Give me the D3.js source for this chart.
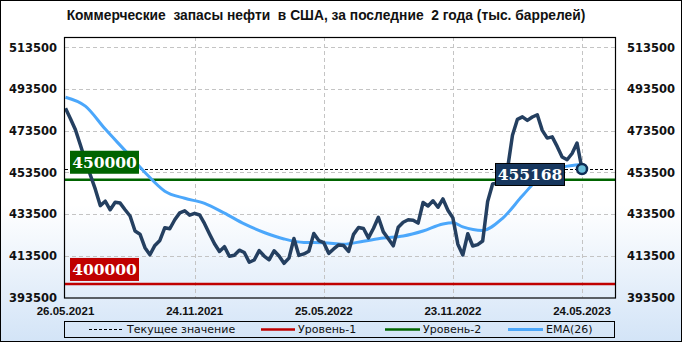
<!DOCTYPE html>
<html>
<head>
<meta charset="utf-8">
<script src="https://cdn.jsdelivr.net/npm/d3@7/dist/d3.min.js"></script>
<style>
  body { margin: 0; }
  svg { display: block; }
  text { white-space: pre; }
</style>
</head>
<body>
<script>
// weekly commercial crude stocks (thousand barrels), first release 26.05.2021
const startDate = "26.05.2021";
const stockValues = [
    484300, 479300, 474000, 466700, 459100, 452300, 445500, 437600, 439700, 435600,
    439200, 438800, 435600, 432600, 425400, 423900, 417400, 414000, 418500, 420900,
    427000, 426500, 430800, 434100, 435100, 433000, 433900, 433100, 428900, 424000,
    419300, 415600, 417900, 413300, 413800, 416200, 415100, 410400, 411500, 416000,
    413400, 411600, 415900, 413400, 409900, 412400, 421800, 413700, 414400, 415700,
    424200, 420800, 419800, 414700, 416800, 418700, 418400, 415600, 423800, 427100,
    426600, 422100, 426600, 432000, 425000, 421700, 418300, 427200, 429600, 430800,
    430600, 429200, 439100, 437400, 439900, 436800, 440800, 435400, 431700, 419100,
    413900, 424100, 418200, 418900, 420600, 439600, 448000, 448500, 452700, 455100,
    471400, 479000, 480200, 478500, 480100, 481200, 473700, 470000, 470600, 466000,
    460900, 459600, 462600, 467600, 455168
];

// EMA(26) at every 4th week
const emaWeeks = [0, 4, 8, 12, 16, 20, 24, 28, 32, 36, 40, 44, 48, 52, 56, 60, 64, 68, 72, 76, 78, 80, 84, 88, 92, 96, 100, 104];
const emaValues = [
    489600, 485300, 474300, 464000, 453500, 444500, 441100, 438700, 434000, 428800,
    424700, 421600, 419900, 419800, 419100, 420500, 422000, 423000, 425400, 428800,
    429400, 427400, 425700, 431500, 442300, 452300, 456000, 457300
];

const levelValues = [400000, 450000];
const levelLabels = ["400000", "450000"];
const yTickValues = [393500, 413500, 433500, 453500, 473500, 493500, 513500];
const xTickLabels = ["26.05.2021", "24.11.2021", "25.05.2022", "23.11.2022", "24.05.2023"];
const legendLabels = ["Текущее значение", "Уровень-1", "Уровень-2", "EMA(26)"];
const titleText = "Коммерческие  запасы нефти  в США, за последние  2 года (тыс. баррелей)";

const drawChart = function () {
    var width = 682,
        height = 342,
        plotLeft = 65,
        plotRight = 615,
        plotTop = 37,
        plotBottom = 297.5,

        lineColor = "#243f60",
        emaColor = "#4ba7fb",
        level1Color = "#c00000",
        level2Color = "#006400",
        gridColor = "#c4c4c4",
        axisFont = "'DejaVu Sans', Verdana, sans-serif",
        labelFont = "'Liberation Sans', Arial, sans-serif",
        boxFont = "'DejaVu Serif', Georgia, serif";

    var parseDate = d3.timeParse("%d.%m.%Y"),
        firstDate = parseDate(startDate),
        dates = stockValues.map((v, i) => d3.timeDay.offset(firstDate, 7 * i)),
        tickDates = xTickLabels.map(parseDate),
        lastValue = stockValues[stockValues.length - 1],
        lastDate = dates[dates.length - 1];

    const x = d3.scaleTime()
                .domain([tickDates[0], tickDates[tickDates.length - 1]])
                .range([plotLeft + 0.5, 582]);

    const y = d3.scaleLinear()
                .domain([393500, 518500])
                .range([plotBottom, plotTop]);

    var svg = d3.select("body").append("svg")
                .attr("width", width)
                .attr("height", height);

    // background gradient
    var grad = svg.append("defs").append("linearGradient")
                .attr("id", "bg")
                .attr("x1", 0).attr("y1", 0)
                .attr("x2", 0).attr("y2", 1);
    grad.append("stop").attr("offset", "0%").attr("stop-color", "#ffffff");
    grad.append("stop").attr("offset", "60%").attr("stop-color", "#ffffff");
    grad.append("stop").attr("offset", "100%").attr("stop-color", "#d3e4f7");

    svg.append("rect")
        .attr("x", 0.5).attr("y", 0.5)
        .attr("width", width - 1).attr("height", height - 1)
        .attr("fill", "url(#bg)")
        .attr("stroke", "#000");

    // title
    svg.append("text")
        .attr("x", 326)
        .attr("y", 19.5)
        .attr("text-anchor", "middle")
        .attr("font-family", labelFont)
        .attr("font-weight", "bold")
        .attr("font-size", "13.8px")
        .attr("fill", "#111")
        .text(titleText);

    // grid
    var grid = svg.append("g").attr("stroke", gridColor).attr("stroke-dasharray", "4,3");

    yTickValues.slice(1).forEach(function (v) {
        var yy = Math.round(y(v)) + 0.5;
        grid.append("line")
            .attr("x1", plotLeft).attr("x2", plotRight)
            .attr("y1", yy).attr("y2", yy);
    });

    tickDates.slice(1).forEach(function (d) {
        var xx = Math.round(x(d)) + 0.5;
        grid.append("line")
            .attr("x1", xx).attr("x2", xx)
            .attr("y1", plotTop).attr("y2", plotBottom);
    });

    // y labels, both sides
    yTickValues.forEach(function (v) {
        [{ xx: 57, anchor: "end" }, { xx: 627, anchor: "start" }].forEach(function (s) {
            svg.append("text")
                .attr("x", s.xx)
                .attr("y", y(v))
                .attr("dy", "0.36em")
                .attr("text-anchor", s.anchor)
                .attr("font-family", axisFont)
                .attr("font-weight", "bold")
                .attr("font-size", "11.5px")
                .attr("fill", "#111")
                .text(v);
        });
    });

    // x labels
    xTickLabels.forEach(function (label, i) {
        svg.append("text")
            .attr("x", x(tickDates[i]))
            .attr("y", 315)
            .attr("text-anchor", "middle")
            .attr("font-family", labelFont)
            .attr("font-weight", "bold")
            .attr("font-size", "11.5px")
            .attr("fill", "#111")
            .text(label);
    });

    // current value dotted line
    var currentY = Math.round(y(lastValue)) + 0.5;
    svg.append("line")
        .attr("x1", plotLeft).attr("x2", plotRight)
        .attr("y1", currentY).attr("y2", currentY)
        .attr("stroke", "#000")
        .attr("stroke-dasharray", "3,2");

    // level lines
    [level1Color, level2Color].forEach(function (c, i) {
        svg.append("line")
            .attr("x1", plotLeft).attr("x2", plotRight)
            .attr("y1", y(levelValues[i])).attr("y2", y(levelValues[i]))
            .attr("stroke", c)
            .attr("stroke-width", 2.5);
    });

    // EMA line
    var emaLine = d3.line()
                    .x(d => x(dates[d.week]))
                    .y(d => y(d.value))
                    .curve(d3.curveMonotoneX);

    svg.append("path")
        .datum(emaWeeks.map((w, i) => ({ week: w, value: emaValues[i] })))
        .attr("fill", "none")
        .attr("stroke", emaColor)
        .attr("stroke-width", 3)
        .attr("d", emaLine);

    // stocks line
    var stockLine = d3.line()
                    .x((d, i) => x(dates[i]))
                    .y(d => y(d));

    svg.append("path")
        .datum(stockValues)
        .attr("fill", "none")
        .attr("stroke", lineColor)
        .attr("stroke-width", 3.5)
        .attr("stroke-linejoin", "round")
        .attr("d", stockLine);

    // plot border
    svg.append("rect")
        .attr("x", plotLeft - 0.5).attr("y", plotTop + 0.5)
        .attr("width", plotRight - plotLeft + 1).attr("height", plotBottom - plotTop)
        .attr("fill", "none")
        .attr("stroke", "#000")
        .attr("stroke-width", 1.2);

    // level label boxes
    var levelBoxes = [
        { label: levelLabels[0], color: level1Color, top: y(levelValues[0]) - 26 },
        { label: levelLabels[1], color: level2Color, top: y(levelValues[1]) - 29 }
    ];

    levelBoxes.forEach(function (b) {
        svg.append("rect")
            .attr("x", 70).attr("y", b.top)
            .attr("width", 69).attr("height", 23)
            .attr("fill", b.color);
        svg.append("text")
            .attr("x", 104.5).attr("y", b.top + 17.5)
            .attr("text-anchor", "middle")
            .attr("font-family", boxFont)
            .attr("font-weight", "bold")
            .attr("font-size", "15.5px")
            .attr("fill", "#fff")
            .text(b.label);
    });

    // current value box and marker
    var boxTop = y(lastValue) - 5.5;
    svg.append("rect")
        .attr("x", 495.5).attr("y", boxTop)
        .attr("width", 69).attr("height", 22)
        .attr("fill", "#17375e")
        .attr("stroke", "#000");
    svg.append("text")
        .attr("x", 530).attr("y", boxTop + 17)
        .attr("text-anchor", "middle")
        .attr("font-family", boxFont)
        .attr("font-weight", "bold")
        .attr("font-size", "15.5px")
        .attr("fill", "#fff")
        .text(lastValue);

    svg.append("circle")
        .attr("cx", x(lastDate)).attr("cy", y(lastValue))
        .attr("r", 5)
        .attr("fill", "#6cc0dc")
        .attr("stroke", "#0f2e56")
        .attr("stroke-width", 2.5);

    // legend
    var legend = svg.append("g").attr("font-family", axisFont).attr("font-size", "11px").attr("fill", "#111");

    legend.append("rect")
        .attr("x", 64.5).attr("y", 321.5)
        .attr("width", 550).attr("height", 16)
        .attr("fill", "none")
        .attr("stroke", "#000");

    var legendItems = [
        { x1: 89, x2: 122, tx: 127, color: "#000", dash: "3,2", w: 1, label: legendLabels[0] },
        { x1: 261, x2: 295, tx: 298, color: level1Color, dash: null, w: 2.5, label: legendLabels[1] },
        { x1: 385, x2: 420, tx: 423, color: level2Color, dash: null, w: 2.5, label: legendLabels[2] },
        { x1: 508, x2: 543, tx: 546, color: emaColor, dash: null, w: 3, label: legendLabels[3] }
    ];

    legendItems.forEach(function (it) {
        legend.append("line")
            .attr("x1", it.x1).attr("x2", it.x2)
            .attr("y1", 329.5).attr("y2", 329.5)
            .attr("stroke", it.color)
            .attr("stroke-width", it.w)
            .attr("stroke-dasharray", it.dash);
        legend.append("text")
            .attr("x", it.tx).attr("y", 329.5)
            .attr("dy", "0.35em")
            .text(it.label);
    });
};

drawChart();
</script>
</body>
</html>
